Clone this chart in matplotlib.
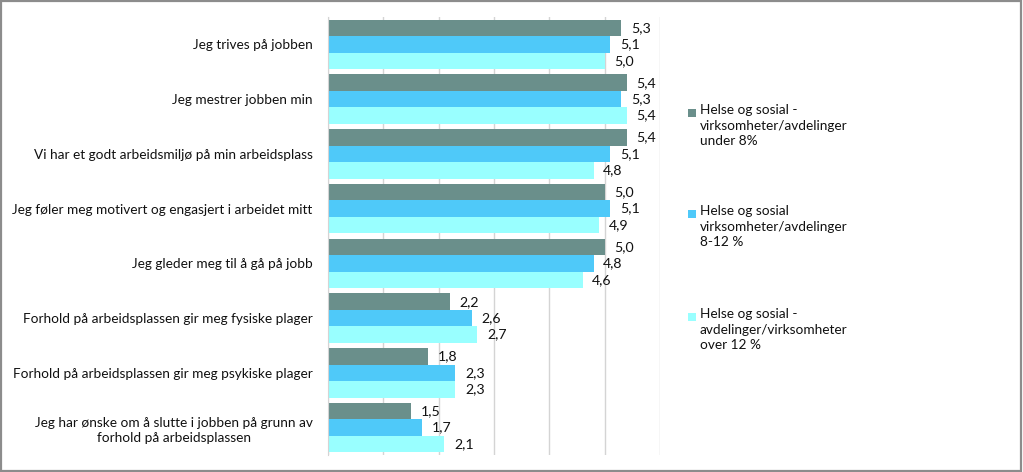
import matplotlib
matplotlib.use("Agg")
import matplotlib.pyplot as plt
import numpy as np
from matplotlib.patches import Rectangle

categories = [
    "Jeg trives på jobben",
    "Jeg mestrer jobben min",
    "Vi har et godt arbeidsmiljø på min arbeidsplass",
    "Jeg føler meg motivert og engasjert i arbeidet mitt",
    "Jeg gleder meg til å gå på jobb",
    "Forhold på arbeidsplassen gir meg fysiske plager",
    "Forhold på arbeidsplassen gir meg psykiske plager",
    "Jeg har ønske om å slutte i jobben på grunn av\nforhold på arbeidsplassen",
]
under_8 = [5.3, 5.4, 5.4, 5.0, 5.0, 2.2, 1.8, 1.5]
mid_8_12 = [5.1, 5.3, 5.1, 5.1, 4.8, 2.6, 2.3, 1.7]
over_12 = [5.0, 5.4, 4.8, 4.9, 4.6, 2.7, 2.3, 2.1]

series_labels = [
    "Helse og sosial -\nvirksomheter/avdelinger\nunder 8%",
    "Helse og sosial\nvirksomheter/avdelinger\n8-12 %",
    "Helse og sosial -\navdelinger/virksomheter\nover 12 %",
]
colors = ["#6A8F8B", "#4FC9F9", "#99FFFF"]

plt.rcParams["font.family"] = ["Lato", "DejaVu Sans"]
FS = 9.8

fig = plt.figure(figsize=(10.23, 4.72), dpi=100)
ax = fig.add_axes([328 / 1023, 1 - 455 / 472, (660 - 328) / 1023, (455 - 17) / 472])

y = np.arange(len(categories))
h = 0.3
for i, (vals, col) in enumerate(zip([under_8, mid_8_12, over_12], colors)):
    pos = y + (i - 1) * h
    bars = ax.barh(pos, vals, height=h, color=col, edgecolor="none", zorder=2)
    for b, v in zip(bars, vals):
        ax.annotate(f"{v:.1f}".replace(".", ","),
                    (b.get_width(), b.get_y() + b.get_height() / 2),
                    xytext=(7, 0), textcoords="offset points",
                    va="center", ha="left", fontsize=FS + 0.4, color="#111111")

ax.set_xlim(0, 6)
ax.set_ylim(len(categories) - 0.5, -0.5)
ax.set_xticks(range(0, 7))
ax.set_xticklabels([])
ax.tick_params(axis="x", length=0)
ax.set_yticks(y)
ax.set_yticklabels(categories, fontsize=FS, color="#111111", linespacing=1.3)
ax.tick_params(axis="y", length=0, pad=11)
for lbl in ax.get_yticklabels():
    lbl.set_horizontalalignment("right")
    lbl.set_multialignment("center")
ax.grid(True, axis="x", color="#D4D4D4", linewidth=1, zorder=0)
for s in ("top", "right", "bottom"):
    ax.spines[s].set_visible(False)
ax.spines["left"].set_color("#D4D4D4")

# legend drawn by hand so the swatch sits next to the first text line
leg_y = [113, 214, 317]
for lab, col, yy in zip(series_labels, colors, leg_y):
    fig.patches.append(Rectangle((688 / 1023, 1 - (yy + 4) / 472), 8 / 1023, 8 / 472,
                                 transform=fig.transFigure, facecolor=col,
                                 edgecolor="none"))
    fig.text(700 / 1023, 1 - (yy - 9) / 472, lab, ha="left", va="top",
             fontsize=FS, color="#111111", linespacing=1.35)

# outer chart border
fig.patches.append(Rectangle((0.001, 0.002), 0.997, 0.995, transform=fig.transFigure,
                             facecolor="none", edgecolor="#8C8C8C", linewidth=1.6))

fig.savefig("out.png", dpi=100)
